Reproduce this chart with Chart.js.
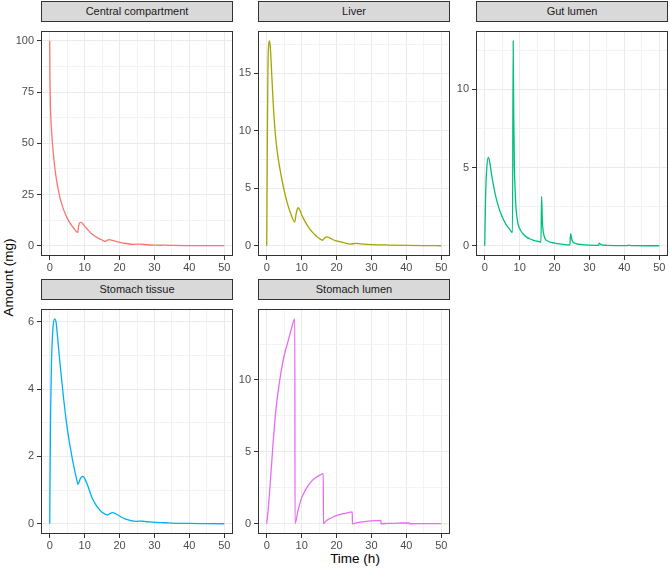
<!DOCTYPE html>
<html>
<head>
<meta charset="utf-8">
<script src="https://cdn.jsdelivr.net/npm/chart.js@4"></script>
<style>
  body { margin:0; background:#fff; font-family:"Liberation Sans", Arial, sans-serif; }
  #wrap { position:relative; width:670px; height:568px; overflow:hidden; }
  canvas { position:absolute; }
  .strip { position:absolute; box-sizing:border-box; background:#D9D9D9; border:1px solid #333333;
           color:#1A1A1A; font-size:11px; font-weight:normal; text-align:center; line-height:18px; }
  .ytitle { position:absolute; left:-34px; top:270px; width:84px; text-align:center; font-size:13.5px;
            font-weight:normal; color:#000; transform:rotate(-90deg); }
  .xtitle { position:absolute; left:305px; top:551px; width:100px; text-align:center; font-size:13.5px;
            font-weight:normal; color:#000; }
</style>
</head>
<body>
<div id="wrap">
  <div class="ytitle">Amount (mg)</div>
  <div class="xtitle">Time (h)</div>
</div>
<script>
// facet titles
var facetNames = ['Central compartment', 'Liver', 'Gut lumen', 'Stomach tissue', 'Stomach lumen'];

// time in hours
var centralTime   = [0,0.05,0.15,0.3,0.57,1,1.5,2,3,4,5,6,7,8,8.3,8.6,9,10,11,12,13,14,15,16,16.4,17,18,19,20,22,24,25,26,28,30,32,33,35,40,45,50];
var centralAmount = [100,85,72,63,55,45.5,37.5,31.5,23,17.5,13.5,10.6,8.3,6.5,9.8,11.2,11.4,9.6,7.6,5.9,4.6,3.6,2.8,2.1,2.6,3.0,2.6,2.1,1.7,1.1,0.7,0.8,0.75,0.5,0.35,0.25,0.27,0.18,0.08,0.04,0.02];

var liverTime   = [0,0.1,0.2,0.35,0.5,0.75,1,1.5,2,2.5,3,4,5,6,7,8,8.5,9,9.5,10,11,12,13,14,15,16,16.5,17.2,18,19,20,22,24,25.5,27,30,35,40,45,50];
var liverAmount = [0,5,10,15.5,17.2,17.8,17.4,14.5,11.6,9.6,8.2,6.3,4.8,3.6,2.7,2.05,2.9,3.3,3.1,2.7,2.1,1.6,1.2,0.9,0.65,0.48,0.65,0.78,0.68,0.52,0.42,0.27,0.15,0.2,0.16,0.1,0.06,0.03,0.01,0];

var gutTime   = [0,0.15,0.3,0.6,1,1.3,2,3,4,5,6,7,7.95,8.15,8.3,8.5,8.7,9,9.5,10,11,12,13,14,15,16.1,16.3,16.5,16.8,17.3,18,20,22,24.4,24.6,25,26,28,30,32.6,32.8,33.3,35,40,40.9,41.1,42,50];
var gutAmount = [0,2.0,3.6,5.0,5.65,5.5,4.5,3.3,2.45,1.85,1.4,1.1,0.85,13.1,8.5,5.0,3.6,2.3,1.45,1.1,0.75,0.55,0.43,0.35,0.29,0.24,3.15,1.6,0.85,0.45,0.3,0.17,0.1,0.05,0.78,0.35,0.15,0.07,0.04,0.02,0.17,0.07,0.03,0.01,0.01,0.04,0.01,0];

var tissueTime   = [0,0.1,0.25,0.5,0.75,1,1.4,1.8,2.2,3,4,5,6,7,8,8.1,8.8,9.5,10,11,12,13,14,15,16,16.5,17.2,18,19,20,21,22,23,24,25,26,27,28,30,33,35,40,45,50];
var tissueAmount = [0,1.5,3.3,4.8,5.5,5.9,6.09,6.0,5.6,4.7,3.7,2.85,2.2,1.65,1.2,1.17,1.35,1.41,1.35,1.1,0.8,0.6,0.45,0.34,0.28,0.26,0.3,0.33,0.29,0.23,0.17,0.13,0.1,0.08,0.07,0.08,0.07,0.06,0.04,0.03,0.02,0.01,0.005,0];

var lumenTime   = [0,0.5,1,1.5,2,2.5,3,3.5,4,5,6,7,8.05,8.1,9,10,11,12,13,14,15,16.2,16.25,17,18,19,20,21,22,23,24.5,24.55,26,28,30,32.7,32.75,35,38,40.8,40.85,45,50];
var lumenAmount = [0,1.2,2.8,4.5,6.2,7.6,8.7,9.6,10.4,11.7,12.6,13.5,14.25,0,0.95,1.8,2.3,2.7,3.0,3.2,3.35,3.48,0,0.2,0.35,0.47,0.57,0.64,0.7,0.76,0.82,0,0.08,0.15,0.2,0.23,0,0.03,0.05,0.06,0,0.01,0.015];

// tick labels
var timeTicks    = [0,10,20,30,40,50];
var centralTicks = [0,25,50,75,100];
var liverTicks   = [0,5,10,15];
var gutTicks     = [0,5,10];
var tissueTicks  = [0,2,4,6];
var lumenTicks   = [0,5,10];

var colors = ['#F8766D','#A3A500','#00BF7D','#00B0F6','#E76BF3'];

var series = [
  [centralTime, centralAmount, centralTicks],
  [liverTime, liverAmount, liverTicks],
  [gutTime, gutAmount, gutTicks],
  [tissueTime, tissueAmount, tissueTicks],
  [lumenTime, lumenAmount, lumenTicks]
];

// layout (pixels)
var colLeft = [41, 258, 476];
var stripTop = [1, 279];
var panelW = 192, panelH = 235, stripH = 20;
var yAxisW = 41, xAxisH = 22;

// majors + half steps between them, like ggplot minor grid
function withMinor(major, lo, hi) {
  var step = major[1] - major[0];
  var out = [];
  for (var v = major[0] - step / 2; v <= hi + 1e-9; v += step / 2) {
    if (v >= lo) out.push(Math.round(v * 1000) / 1000);
  }
  return out;
}

var panelBorder = {
  id: 'panelBorder',
  afterDraw: function(chart) {
    var a = chart.chartArea, ctx = chart.ctx;
    ctx.save();
    ctx.strokeStyle = '#333333';
    ctx.lineWidth = 1;
    ctx.strokeRect(Math.round(a.left) + 0.5, Math.round(a.top) + 0.5, Math.round(a.right - a.left) - 1, Math.round(a.bottom - a.top) - 1);
    ctx.restore();
  }
};

function axisOpts(major, lo, hi, isX) {
  var all = withMinor(major, lo, hi);
  return {
    type: 'linear',
    min: lo, max: hi,
    afterBuildTicks: function(scale) {
      scale.ticks = all.map(function(v) { return { value: v }; });
    },
    afterFit: function(scale) {
      if (isX) scale.height = xAxisH; else scale.width = yAxisW;
    },
    border: { display: false },
    grid: {
      color: function(c) { return major.indexOf(c.tick.value) >= 0 ? '#EBEBEB' : '#F3F3F3'; },
      lineWidth: 1,
      tickLength: 4,
      tickColor: function(c) { return major.indexOf(c.tick.value) >= 0 ? '#333333' : 'rgba(0,0,0,0)'; }
    },
    ticks: {
      autoSkip: false,
      maxRotation: 0,
      padding: isX ? 1 : 3,
      color: '#4D4D4D',
      font: { family: '"Liberation Sans", Arial, sans-serif', size: 11 },
      callback: function(v) { return major.indexOf(v) >= 0 ? String(v) : ''; }
    }
  };
}

var wrap = document.getElementById('wrap');

series.forEach(function(s, i) {
  var col = i % 3, row = Math.floor(i / 3);
  var left = colLeft[col], top = stripTop[row] + stripH;

  var strip = document.createElement('div');
  strip.className = 'strip';
  strip.style.left = left + 'px';
  strip.style.top = stripTop[row] + 'px';
  strip.style.width = panelW + 'px';
  strip.style.height = (stripH + 1) + 'px';
  strip.textContent = facetNames[i];
  wrap.appendChild(strip);

  var canvas = document.createElement('canvas');
  canvas.width = panelW + yAxisW;
  canvas.height = panelH + xAxisH;
  canvas.style.left = (left - yAxisW) + 'px';
  canvas.style.top = top + 'px';
  wrap.appendChild(canvas);

  var ymax = Math.max.apply(null, s[1]);
  var pts = s[0].map(function(t, k) { return { x: t, y: s[1][k] }; });

  new Chart(canvas, {
    type: 'line',
    data: {
      datasets: [{
        data: pts,
        borderColor: colors[i],
        borderWidth: 1.3,
        pointRadius: 0,
        cubicInterpolationMode: 'monotone',
        fill: false
      }]
    },
    options: {
      responsive: false,
      animation: false,
      layout: { padding: 0 },
      plugins: { legend: { display: false }, tooltip: { enabled: false } },
      scales: {
        x: axisOpts(timeTicks, -2.5, 52.5, true),
        y: axisOpts(s[2], -0.05 * ymax, 1.05 * ymax, false)
      }
    },
    plugins: [panelBorder]
  });
});
</script>
</body>
</html>
